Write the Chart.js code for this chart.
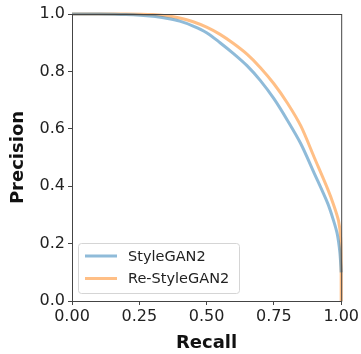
<!DOCTYPE html>
<html>
<head>
<meta charset="utf-8">
<script src="https://cdn.jsdelivr.net/npm/chart.js@4/dist/chart.umd.min.js"></script>
<style>
  html, body { margin: 0; padding: 0; background: #fff; }
  #wrap { width: 361px; height: 354px; }
</style>
</head>
<body>
<div id="wrap"><canvas id="myChart" width="361" height="354"></canvas></div>
<script>
    // values
    const seriesNames = ['StyleGAN2', 'Re-StyleGAN2'];
    const recallStyleGAN2 = [0, 0.1, 0.2, 0.3, 0.35, 0.4, 0.45, 0.5, 0.55, 0.6, 0.65, 0.7, 0.75, 0.8, 0.85, 0.9, 0.95, 0.97, 0.985, 0.995, 1.0];
    const precisionStyleGAN2 = [1, 1, 0.998, 0.992, 0.985, 0.975, 0.958, 0.935, 0.9, 0.862, 0.82, 0.768, 0.705, 0.63, 0.548, 0.445, 0.34, 0.285, 0.235, 0.17, 0.1];
    const recallReStyleGAN2 = [0, 0.1, 0.2, 0.3, 0.35, 0.4, 0.45, 0.5, 0.55, 0.6, 0.65, 0.7, 0.75, 0.8, 0.85, 0.9, 0.95, 0.97, 0.99, 0.998, 1.0, 1.0];
    const precisionReStyleGAN2 = [1, 1, 1, 0.998, 0.994, 0.986, 0.973, 0.954, 0.929, 0.897, 0.86, 0.813, 0.757, 0.69, 0.61, 0.5, 0.39, 0.34, 0.28, 0.22, 0.1, 0];
    const xTicks = [0, 0.25, 0.5, 0.75, 1.0];
    const yTicks = [0, 0.2, 0.4, 0.6, 0.8, 1.0];

    const colors = ['rgba(31,119,180,0.5)', 'rgba(255,127,14,0.5)'];

    function toPoints(xs, ys) {
        return xs.map((x, i) => ({ x: x, y: ys[i] }));
    }

    // top/right spines
    const frame = {
        id: 'frame',
        afterDraw(chart) {
            const a = chart.chartArea, c = chart.ctx;
            c.save();
            c.strokeStyle = '#444';
            c.lineWidth = 1;
            c.strokeRect(a.left + 0.5, a.top + 0.5, a.right - a.left, a.bottom - a.top);
            c.restore();
        }
    };

    // legend in lower left corner of the axes
    const innerLegend = {
        id: 'innerLegend',
        afterDraw(chart) {
            const a = chart.chartArea, c = chart.ctx;
            const x = a.left + 6, y = a.bottom - 58, w = 161, h = 50;
            c.save();
            c.fillStyle = 'rgba(255,255,255,0.8)';
            c.strokeStyle = '#d5d5d5';
            c.lineWidth = 1;
            c.beginPath();
            c.roundRect(x + 0.5, y + 0.5, w, h, 3);
            c.fill();
            c.stroke();
            c.font = '14.5px "DejaVu Sans"';
            c.textBaseline = 'middle';
            chart.data.datasets.forEach((ds, i) => {
                const ly = y + 13 + i * 22.5;
                c.strokeStyle = ds.borderColor;
                c.lineWidth = 3;
                c.beginPath();
                c.moveTo(x + 7, ly);
                c.lineTo(x + 39, ly);
                c.stroke();
                c.fillStyle = '#222';
                c.fillText(ds.label, x + 50, ly + 1);
            });
            c.restore();
        }
    };

    const config = {
        type: 'scatter',
        data: {
            datasets: [{
                label: seriesNames[0],
                data: toPoints(recallStyleGAN2, precisionStyleGAN2),
                borderColor: colors[0],
                backgroundColor: colors[0],
                borderWidth: 3,
                showLine: true,
                pointRadius: 0,
                tension: 0.3,
                clip: 4
            }, {
                label: seriesNames[1],
                data: toPoints(recallReStyleGAN2, precisionReStyleGAN2),
                borderColor: colors[1],
                backgroundColor: colors[1],
                borderWidth: 3,
                showLine: true,
                pointRadius: 0,
                tension: 0.3,
                clip: 4
            }]
        },
        options: {
            responsive: false,
            animation: false,
            layout: { padding: { top: 14, right: 19, left: 0, bottom: 0 } },
            plugins: {
                legend: { display: false },
                tooltip: { enabled: false }
            },
            scales: {
                x: {
                    type: 'linear',
                    min: 0,
                    max: 1,
                    afterBuildTicks: s => { s.ticks = xTicks.map(v => ({ value: v })); },
                    afterFit: s => { s.height = 53; },
                    border: { color: '#444', width: 1 },
                    grid: { drawOnChartArea: false, tickLength: 4, color: '#444' },
                    ticks: {
                        color: '#222',
                        padding: 2,
                        maxRotation: 0,
                        font: { family: 'DejaVu Sans', size: 16 },
                        callback: v => v.toFixed(2)
                    },
                    title: {
                        display: true,
                        text: 'Recall',
                        color: '#111',
                        padding: { top: 0, bottom: 0 },
                        font: { family: 'DejaVu Sans', size: 18, weight: 'bold' }
                    }
                },
                y: {
                    type: 'linear',
                    min: 0,
                    max: 1,
                    afterBuildTicks: s => { s.ticks = yTicks.map(v => ({ value: v })); },
                    afterFit: s => { s.width = 72; },
                    border: { color: '#444', width: 1 },
                    grid: { drawOnChartArea: false, tickLength: 4, color: '#444' },
                    ticks: {
                        color: '#222',
                        padding: 3,
                        font: { family: 'DejaVu Sans', size: 16 },
                        callback: v => v.toFixed(1)
                    },
                    title: {
                        display: true,
                        text: 'Precision',
                        color: '#111',
                        padding: { top: 8, bottom: 0 },
                        font: { family: 'DejaVu Sans', size: 18, weight: 'bold' }
                    }
                }
            }
        },
        plugins: [frame, innerLegend]
    };

    const ctx = document.getElementById('myChart');

    new Chart(ctx, config);
</script>
</body>
</html>
